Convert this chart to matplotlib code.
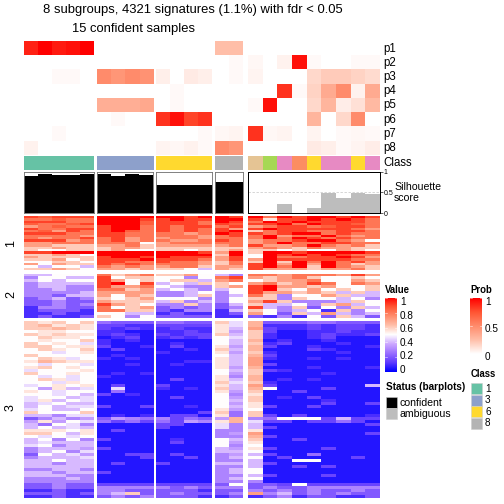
import matplotlib
matplotlib.use("Agg")
import matplotlib.pyplot as plt
from matplotlib.colors import LinearSegmentedColormap, to_rgb
from matplotlib.patches import Rectangle
import numpy as np

plt.rcParams['font.family'] = ['Liberation Sans', 'DejaVu Sans']

title_lines = ["8 subgroups, 4321 signatures (1.1%) with fdr < 0.05", "15 confident samples"]
prob_names = ["p1", "p2", "p3", "p4", "p5", "p6", "p7", "p8"]
group_sizes = [5, 4, 4, 2, 9]
class_colors = ["#66C2A5"]*5 + ["#8DA0CB"]*4 + ["#FFD92F"]*4 + ["#B3B3B3"]*2 + \
    ["#E5C494", "#A6D854", "#E78AC3", "#FC8D62", "#FFD92F", "#E78AC3", "#E78AC3", "#FFD92F", "#E78AC3"]

p1 = [.9, 1, .92, .95, 1,  0, 0, 0, 0,  0, 0, 0, 0,  .25, .25,  0, 0, 0, 0, 0, 0, 0, 0, 0]
p2 = [0, 0, 0, 0, 0,  0, 0, 0, 0,  0, 0, 0, 0,  0, .02,  .03, 0, .05, .95, .02, 0, 0, .02, .02]
p3 = [0, 0, .02, .02, 0,  .5, .45, .5, .47,  .06, 0, .08, .06,  0, .02,  .04, 0, 0, 0, .15, .2, .2, .17, .14]
p4 = [0, 0, 0, 0, 0,  0, 0, 0, 0,  0, .02, 0, 0,  0, 0,  0, 0, .85, .02, .17, .35, .5, .05, .35]
p5 = [0, 0, 0, 0, 0,  .33, .33, .33, .36,  0, .02, 0, 0,  0, 0,  .02, .95, 0, 0, .15, .3, .07, .12, .28]
p6 = [0, 0, 0, 0, 0,  0, .02, 0, 0,  .85, .95, .8, .85,  0, 0,  0, 0, 0, 0, .3, 0, .15, .5, 0]
p7 = [0, 0, .02, 0, 0,  0, 0, 0, 0,  0, 0, 0, .02,  .03, .04,  .85, .03, .04, 0, .04, 0, .02, .03, .02]
p8 = [.05, 0, 0, 0, 0,  0, 0, 0, 0,  .04, .03, .05, .02,  .5, .45,  0, 0, 0, 0, .08, .06, .02, .04, .07]

silhouette = [.90, .93, .91, .91, .93,  .93, .90, .93, .91,  .68, .68, .68, .68,  .74, .74,
              0, 0, .22, 0, .12, .47, .37, .47, .45]

# heatmap rows: one char per sample, base-21 digits 0..k = value 0..1 in twentieths
block1 = """
ihiii kkkk kkik ki kgkikkiki
gghgg kkki ikii kk ibiikikig
iiigg kkkh iiig ki gkikiiiig
hgghi kkkh iiig ih iikgkiihg
eghgg ikkg igii gi egiighiig
iggii ikkg igig ie ikiiiiige
gheig ikhg igig ik cgiiggiig
iiigg iigg ggeg ki igikkgigg
gggge iigg ggge gi gkeggkgeg
geggi gieg egge gg gkgkigigg
iiieg gieg geeg ig eggikkgea
eeggg ggga eggg gg egkggiigg
eeccc eegc eeee eg ieegkgegc
ccecc ceec cccc cc egecgeecc
caacc ceaa ccac ce ccacaaeca
iikkk kkkk kkki ek ckkikkkki
cceca kkkk kkkk ck akikikigg
ecccc ikki kiii ei akggiikie
cceac iiik iiig ei ekiiiiigg
aacca iigg igge cg ckckgkgie
eaecc igig ggge cg ikekekgce
a8aa8 gege eggc ee ikgkckgec
cceca eece cca8 ec ieeeceegc
"""
block2 = """
88aaa gceg ccea 86 ggegggeie
6aa88 iacc aa6a gi ecegcaaca
8a8aa ieac acc8 eg aceegaaec
68888 ikai 8a8c ca egceigage
68866 ieeg a866 ce ikeeceaac
66866 ggce 8a86 8a ikcaeacac
66668 eeee 668a 6a ieecec8c8
66488 eaec 668c 68 gc6aaec88
46846 cace aaa6 6a cc6caa8a6
44644 eccc 8c68 6a eic6668ca
44646 ieca 66c6 48 c88a6ce8a
26644 gace 4646 46 i86c4a6c8
24442 ggcc 4266 28 ca68a2c6a
22422 aa88 2422 24 ea4c8e868
24224 ca6a 4444 22 4262a4c84
"""
block3 = """
cbcac 5444 5544 c9 d444 5544 4
cdbcb 3322 3333 b9 d222 3233 2
ccdcb 3232 2322 b8 e322 3233 2
abbaa 2211 2232 b7 c311 2232 2
cbcbb 2321 3233 c8 c211 2322 3
acbba 1231 2323 a9 c211 2311 1
abaac 2121 1111 a8 d121 1211 1
caba9 2111 1211 a8 c231 1121 1
ccabb 3112 1311 b7 d311 2111 2
acbac 1311 1121 c8 d111 3211 1
aa9ab 1111 2111 b7 c211 1121 1
caaaa 1211 1111 a8 d311 1111 1
acb9a 2121 1111 b8 e211 2121 1
bdcbb 1111 1122 b8 e111 1111 1
a9aa9 1121 1211 b8 e311 1111 1
bcaba 1111 1111 b7 d111 2111 2
9aaab 1111 1111 a8 c321 1111 1
caaba 1212 1111 a7 c111 1211 1
a9a9a 2111 1111 b6 d111 1111 1
acb9a 1111 1311 b8 d121 2111 1
aa9ba 1111 1111 c9 c211 1111 1
9abab 1311 3111 b8 e311 1111 8
a7b89 1911 2121 c8 da11 1311 1
ba9aa 1511 1111 b7 c113 1111 1
aa9a8 3121 1111 a6 b111 1111 1
9aa89 1111 1311 a7 c121 3111 1
9b8a9 1111 1111 a8 c111 1211 1
89a88 1111 1111 a7 b111 1311 3
8a899 3113 1121 a8 b311 3111 1
9a88a 1111 1111 b7 a111 1111 1
caaac 1111 1113 c5 c111 1111 1
88699 1212 1331 b5 c313 1111 2
46867 4765 6354 7d 65aa a383 3
7b7a9 5353 5376 bd 9331 3353 1
85a96 1111 3311 96 8111 1111 3
8a898 1111 3111 96 8311 1111 1
bbbab 1311 1111 66 b111 1111 1
cca8b 1111 1111 67 e111 1111 3
a9a9a 1111 1111 66 d311 1111 1
8a6a6 3111 1211 a8 c113 1111 1
89888 1111 1311 a7 b111 1111 1
9a688 1111 1111 a6 a111 1111 1
68887 3111 1111 87 b311 1311 1
68a69 1111 1111 88 a111 1111 1
4a897 1133 1311 67 8311 5111 1
68889 1113 1131 68 a131 1113 1
88a88 1111 1111 66 811a a111 1
88688 1311 3111 88 8311 1111 1
88888 1111 1111 66 8113 1311 1
66886 1111 1111 68 a111 1111 1
88688 3111 1111 68 a111 1111 1
88866 1111 1111 66 8311 1311 1
66686 1111 1111 68 a111 1111 1
66666 1111 1111 66 6111 1111 1
44644 3333 3333 4a 443a 3333 3
44644 6666 6464 66 4644 6666 6
22422 6644 4442 44 6464 6446 4
44424 68c4 4644 46 e684 6464 4
22422 4646 4442 24 2462 4422 4
"""

LEVELS = "0123456789abcdefghijk"


def parse_rows(text):
    rows = [r.replace(" ", "") for r in text.strip().splitlines()]
    return np.array([[LEVELS.index(c) / 20 for c in r] for r in rows])


W = H = 504
fig = plt.figure(figsize=(7, 7), dpi=72)


def px_axes(x0, y0, x1, y1):
    return fig.add_axes([x0 / W, 1 - y1 / H, (x1 - x0) / W, (y1 - y0) / H])


def label(x, y, s, **kw):
    kw.setdefault("fontsize", 12)
    kw.setdefault("va", "center")
    kw.setdefault("ha", "left")
    return fig.text(x / W, 1 - y / H, s, **kw)


def clean(ax):
    ax.set_xticks([])
    ax.set_yticks([])
    for sp in ax.spines.values():
        sp.set_visible(False)


# blue-white-red ramp with the perceptual mid tones of the reference legend
value_cmap = LinearSegmentedColormap.from_list("value", [
    "#0000FF", "#5F3AFF", "#9A6FFF", "#CDA8FF", "#FFFFFF", "#FFBFA9", "#FF8C6C", "#FF5533", "#FF0000"])
prob_cmap = LinearSegmentedColormap.from_list("prob", [
    "#FFFFFF", "#FFBFA9", "#FF8C6C", "#FF5533", "#FF0000"])

group_x = [(24, 94), (97, 153), (156, 212), (215, 243), (248, 380)]
col_slices = np.split(np.arange(24), np.cumsum(group_sizes)[:-1])

prob = np.array([p1, p2, p3, p4, p5, p6, p7, p8])
class_rgb = np.array([[to_rgb(c) for c in class_colors]])
blocks = [(parse_rows(block1), 216, 270), (parse_rows(block2), 274, 318), (parse_rows(block3), 321, 498)]

for (x0, x1), idx in zip(group_x, col_slices):
    ax = px_axes(x0, 41, x1, 155)
    ax.imshow(prob[:, idx], cmap=prob_cmap, vmin=0, vmax=1, aspect="auto", interpolation="nearest")
    clean(ax)

    ax = px_axes(x0, 156, x1, 170)
    ax.imshow(class_rgb[:, idx], aspect="auto", interpolation="nearest")
    clean(ax)

    ax = px_axes(x0, 171.5, x1, 213)
    unconfident = idx[0] >= 15
    ax.bar(np.arange(len(idx)), np.array(silhouette)[idx], width=1,
           color="#BDBDBD" if unconfident else "black")
    ax.set_xlim(-.5, len(idx) - .5)
    ax.set_ylim(0, 1)
    ax.set_xticks([])
    ax.set_yticks([])
    for sp in ax.spines.values():
        sp.set_linewidth(1.0 if unconfident else 0.9)
        sp.set_color("black" if unconfident else "#777777")
    if unconfident:
        ax.axhline(.5, color="#CCCCCC", lw=.8, ls=(0, (3, 2)))
        ax.set_yticks([0, .5, 1])
        ax.set_yticklabels(["0", "0.5", "1"], fontsize=7)
        ax.yaxis.tick_right()
        ax.tick_params(axis="y", length=2.5, width=.6, pad=1)

    for data, y0, y1 in blocks:
        ax = px_axes(x0, y0, x1, y1)
        ax.imshow(data[:, idx], cmap=value_cmap, vmin=0, vmax=1, aspect="auto", interpolation="nearest")
        clean(ax)

# titles and annotation labels
label(193, 10, title_lines[0], ha="center", fontsize=13)
label(133, 29, title_lines[1], ha="center", fontsize=13)
for i, n in enumerate(prob_names):
    label(383, 49 + 14.1 * i, n, fontsize=11.5)
label(383, 163, "Class", fontsize=11.5)
label(394, 187, "Silhouette", fontsize=10.5)
label(394, 198, "score", fontsize=10.5)
for y, s in [(243, "1"), (295, "2"), (408, "3")]:
    label(11, y, s, rotation=90, ha="center", fontsize=12.5)


def colorbar(x0, y0, x1, y1, cmap, ticks, tick_labels, vmax_y, vmin_y, lab_x):
    ax = px_axes(x0, y0, x1, y1)
    ax.imshow(np.linspace(1, 0, 200)[:, None], cmap=cmap, vmin=0, vmax=1, aspect="auto",
              extent=[0, 1, 0, 1])
    clean(ax)
    for t, s in zip(ticks, tick_labels):
        ax.plot([0, .2], [t, t], color="white", lw=.6, alpha=.8)
        ax.plot([.8, 1], [t, t], color="white", lw=.6, alpha=.8)
        label(lab_x, vmin_y + (vmax_y - vmin_y) * t, s, fontsize=10)
    ax.set_xlim(0, 1)
    ax.set_ylim(0, 1)


label(385, 290, "Value", fontweight="bold", fontsize=9.5)
colorbar(385, 298, 397, 372, value_cmap, [0, .2, .4, .6, .8, 1], ["0", "0.2", "0.4", "0.6", "0.8", "1"], 302, 370, 400)
label(470, 290, "Prob", fontweight="bold", fontsize=9.5)
colorbar(470, 298, 482, 354, prob_cmap, [0, .5, 1], ["0", "0.5", "1"], 302, 357, 485)

label(471, 374, "Class", fontweight="bold", fontsize=9.5)
legend_classes = ["1", "3", "6", "8"]
legend_colors = ["#66C2A5", "#8DA0CB", "#FFD92F", "#B3B3B3"]
for i, (s, c) in enumerate(zip(legend_classes, legend_colors)):
    fig.add_artist(Rectangle((471 / W, 1 - (394 + 11.6 * i) / H), 11 / W, 11 / H, transform=fig.transFigure,
                             facecolor=c, edgecolor="#CCCCCC", lw=.5))
    label(485, 388.5 + 11.6 * i, s, fontsize=10)

label(386, 387, "Status (barplots)", fontweight="bold", fontsize=10)
for i, (s, c) in enumerate(zip(["confident", "ambiguous"], ["black", "#BDBDBD"])):
    fig.add_artist(Rectangle((385.5 / W, 1 - (408 + 11 * i) / H), 11 / W, 11 / H, transform=fig.transFigure,
                             facecolor=c, edgecolor="#CCCCCC", lw=.5))
    label(400, 403 + 11 * i, s, fontsize=10.5)

fig.savefig("out.png", dpi=72)
